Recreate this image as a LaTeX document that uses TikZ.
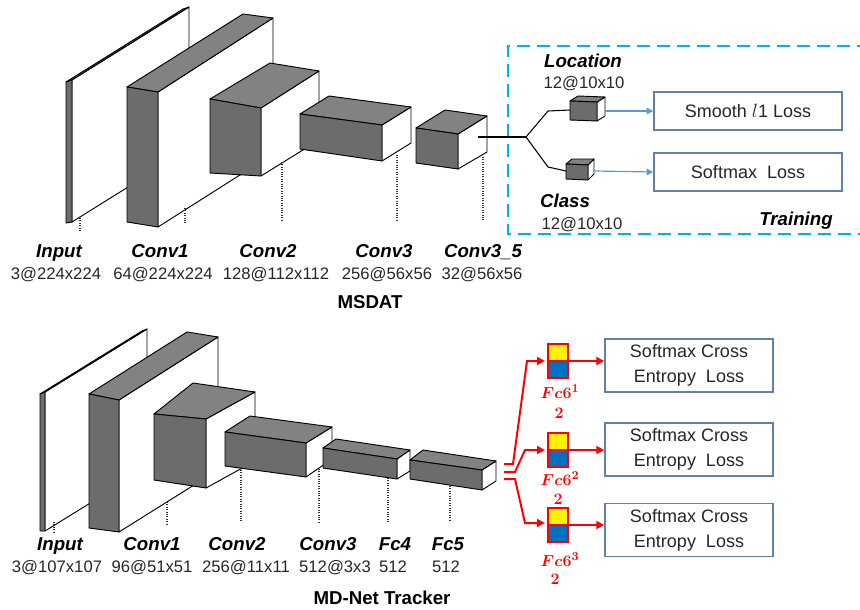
\documentclass[tikz,border=0pt]{standalone}
\usepackage[no-math]{fontspec}
\setmainfont{Liberation Sans}
\usepackage{bm}
\usetikzlibrary{arrows.meta}
\definecolor{frontg}{RGB}{108,108,108}
\definecolor{topg}{RGB}{130,130,130}
\definecolor{lossblue}{RGB}{95,130,172}
\definecolor{arrblue}{RGB}{91,155,213}
\definecolor{cyanb}{RGB}{0,176,240}
\definecolor{fcblue}{RGB}{0,112,192}
\newcommand\mycube[7]{%
  \draw[cubeedge, fill=white] #2 -- #6 -- #7 -- #3 -- cycle;
  \draw[cubeedge, fill=topg] #1 -- #5 -- #6 -- #2 -- cycle;
  \draw[cubeedge, fill=frontg] #1 -- #2 -- #3 -- #4 -- cycle;}
\tikzset{
  cubeedge/.style={draw=black, line width=0.7pt, line join=round},
  guide/.style={densely dotted, line width=0.8pt, black!80},
  layername/.style={anchor=base, font=\fontsize{14}{16}\selectfont\bfseries\itshape},
  layersize/.style={anchor=base, font=\fontsize{12.5}{15}\selectfont, text=black!85},
  title/.style={anchor=base, font=\fontsize{14}{16}\selectfont\bfseries},
  lossbox/.style={draw=lossblue, line width=1.1pt, fill=white, inner sep=0pt, align=center,
    font=\fontsize{13.5}{18.75}\selectfont, text=black!85},
  bluearrow/.style={draw=arrblue, line width=0.9pt, -{Triangle[length=5pt,width=5pt]}},
  redarrow/.style={draw=red, line width=1.5pt, -{Triangle[length=6pt,width=6pt]}},
  fcyel/.style={draw=red, line width=1.5pt, fill=yellow, minimum width=15pt, minimum height=12.75pt, inner sep=0pt, outer sep=0pt},
  fcblu/.style={draw=red, line width=1.5pt, fill=fcblue, minimum width=15pt, minimum height=12.75pt, inner sep=0pt, outer sep=0pt},
  fclabel/.style={text=red, inner sep=0pt, font=\fontsize{13}{15}\selectfont},
}
\begin{document}
\begin{tikzpicture}[x=0.75pt,y=-0.75pt]
\useasboundingbox (0,0) rectangle (860,610);

% ================= MSDAT =================
\mycube{(66,82)}{(72,80)}{(72,222)}{(66,223)}{(183,9)}{(189,7)}{(189,149)}
\mycube{(127,87)}{(158,92)}{(158,227)}{(127,222)}{(243,14)}{(273,18)}{(273,154)}
\mycube{(210,99)}{(261,108)}{(261,176)}{(210,173)}{(270,63)}{(319,71)}{(319,140)}
\mycube{(300,114)}{(382,125)}{(382,161)}{(300,149)}{(329,96)}{(411,107)}{(411,143)}
\mycube{(416,128)}{(458,134)}{(458,169)}{(416,163)}{(445,110)}{(487,116)}{(487,152)}

\draw[guide] (80,218) -- (80,231);
\draw[guide] (185,208) -- (185,224);
\draw[guide] (282,162) -- (282,220);
\draw[guide] (397,155) -- (397,220);
\draw[guide] (483,157) -- (483,220);

\node[layername] (n-in) at (59,257) {Input};
\node[layersize] (s-in) at (56,279) {3@224x224};
\node[layername] (n-c1) at (160,257) {Conv1};
\node[layersize] (s-c1) at (163,279) {64@224x224};
\node[layername] (n-c2) at (268,257) {Conv2};
\node[layersize] (s-c2) at (276,279) {128@112x112};
\node[layername] (n-c3) at (384,257) {Conv3};
\node[layersize] (s-c3) at (387,279) {256@56x56};
\node[layername] (n-c35) at (483,257) {Conv3\_5};
\node[layersize] (s-c35) at (482,279) {32@56x56};
\node[title] (msdat) at (370,308) {MSDAT};

% training box
\begin{scope}
\clip (0,0) rectangle (860,610);
\draw[cyanb, line width=1.6pt, dash pattern=on 9.75pt off 5.25pt] (870,46) -- (508,46) -- (508,234) -- (870,234);
\end{scope}

\coordinate (c35out) at (478,137);
\coordinate (split) at (526,137);
\coordinate (locin) at (570,110);
\coordinate (clsin) at (566,171);
\draw[line width=0.8pt] (c35out) -- (split);
\draw[line width=0.8pt] (split) -- (548,111) -- (locin);
\draw[line width=0.8pt] (split) -- (548,167) -- (clsin);

\mycube{(570,101)}{(597,102)}{(597,121)}{(570,120)}{(578,96)}{(605,97)}{(605,116)}
\mycube{(566,164)}{(588,165)}{(588,180)}{(566,179)}{(572,159)}{(594,159)}{(594,174)}
\coordinate (locout) at (605,111);
\coordinate (clsout) at (594,171);

\node[lossbox, minimum width=141pt, minimum height=28.5pt] (smooth) at (748,111) {Smooth $l$1 Loss};
\node[lossbox, minimum width=141pt, minimum height=28.5pt] (softmax) at (748,172) {Softmax~ Loss};
\draw[bluearrow] (locout) -- (smooth.west);
\draw[bluearrow] (clsout) -- (softmax.west);

\node[layername] (n-loc) at (583,68) {Location};
\node[layersize] (s-loc) at (584,89) {12@10x10};
\node[layername] (n-cls) at (565,207) {Class};
\node[layersize] (s-cls) at (582,229) {12@10x10};
\node[layername] (n-tr) at (796,225) {Training};

% ================= MD-Net =================
\mycube{(40,394)}{(45,392)}{(45,531)}{(40,531)}{(142,331)}{(147,329)}{(147,468)}
\mycube{(89,394)}{(119,400)}{(119,532)}{(89,528)}{(187,332)}{(218,337)}{(218,470)}
\mycube{(154,414)}{(206,419)}{(206,488)}{(154,480)}{(193,383)}{(255,392)}{(255,461)}
\mycube{(225,432)}{(306,443)}{(306,477)}{(225,466)}{(250,416)}{(332,427)}{(332,459)}
\mycube{(323,448)}{(397,459)}{(397,479)}{(323,468)}{(336,439)}{(410,450)}{(410,471)}
\mycube{(410,460)}{(482,470)}{(482,490)}{(410,479)}{(423,450)}{(496,461)}{(496,481)}

\draw[guide] (54,522) -- (54,534);
\draw[guide] (167,502) -- (167,525);
\draw[guide] (241,470) -- (241,522);
\draw[guide] (319,469) -- (319,522);
\draw[guide] (388,478) -- (388,522);
\draw[guide] (450,486) -- (450,522);

\node[layername] (m-in) at (60,550) {Input};
\node[layersize] (t-in) at (57,572) {3@107x107};
\node[layername] (m-c1) at (152,550) {Conv1};
\node[layersize] (t-c1) at (152,572) {96@51x51};
\node[layername] (m-c2) at (237,550) {Conv2};
\node[layersize] (t-c2) at (246,572) {256@11x11};
\node[layername] (m-c3) at (328,550) {Conv3};
\node[layersize] (t-c3) at (335,572) {512@3x3};
\node[layername] (m-f4) at (395,550) {Fc4};
\node[layersize] (t-f4) at (393,572) {512};
\node[layername] (m-f5) at (448,550) {Fc5};
\node[layersize] (t-f5) at (446,572) {512};
\node[title] (mdnet) at (382,604) {MD-Net Tracker};

% fc6 branches
\node[fcyel] (y1) at (558,352.5) {};
\node[fcblu] (b1) at (558,369.5) {};
\node[fcyel] (y2) at (558,441.5) {};
\node[fcblu] (b2) at (558,458.5) {};
\node[fcyel] (y3) at (558,516.5) {};
\node[fcblu] (b3) at (558,533.5) {};
\coordinate (f1) at (558,361);
\coordinate (f2) at (558,450);
\coordinate (f3) at (558,525);

\coordinate (o1) at (504,464);
\coordinate (o2) at (504,472);
\coordinate (o3) at (504,479);
\draw[redarrow] (o1) -- (513,464) -- (527,361) -- (545,361);
\draw[redarrow] (o2) -- (515,472) -- (525,450) -- (545,450);
\draw[redarrow] (o3) -- (515,479) -- (525,523) -- (545,523);

\node[lossbox, minimum width=126pt, minimum height=39.75pt] (l1) at (689,365.5) {Softmax Cross\\Entropy~ Loss};
\node[lossbox, minimum width=126pt, minimum height=39.75pt] (l2) at (689,449.5) {Softmax Cross\\Entropy~ Loss};
\node[lossbox, minimum width=126pt, minimum height=39.75pt] (l3) at (689,530) {Softmax Cross\\Entropy~ Loss};

\draw[redarrow] (f1 -| b1.east) -- (f1 -| l1.west);
\draw[redarrow] (f2 -| b2.east) -- (f2 -| l2.west);
\draw[redarrow] (f3 -| b3.east) -- (f3 -| l3.west);

\node[fclabel] (fl1) at (560,392) {$\bm{Fc6^{1}}$};
\node[fclabel] (fn1) at (559,413) {$\mathbf{2}$};
\node[fclabel] (fl2) at (560,479) {$\bm{Fc6^{2}}$};
\node[fclabel] (fn2) at (558,499) {$\mathbf{2}$};
\node[fclabel] (fl3) at (560,560) {$\bm{Fc6^{3}}$};
\node[fclabel] (fn3) at (555,579) {$\mathbf{2}$};
\end{tikzpicture}
\end{document}
